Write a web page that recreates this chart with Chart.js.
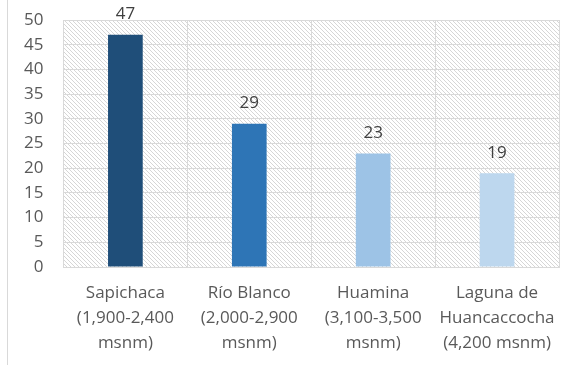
<!DOCTYPE html>
<html>
<head>
<meta charset="utf-8">
<script src="https://cdn.jsdelivr.net/npm/chart.js@4"></script>
<style>
  body { margin: 0; background: #fff; }
  #wrap { position: relative; width: 573px; height: 365px; }
  #edge { position: absolute; left: 7px; top: 0; height: 365px; border-left: 1px solid #d9d9d9; }
</style>
</head>
<body>
<div id="wrap">
  <div id="edge"></div>
  <canvas id="chart" width="573" height="365"></canvas>
</div>
<script>
// datos
const categories = [
    ["Sapichaca", "(1,900-2,400", "msnm)"],
    ["Río Blanco", "(2,000-2,900", "msnm)"],
    ["Huamina", "(3,100-3,500", "msnm)"],
    ["Laguna de", "Huancaccocha", "(4,200 msnm)"]
];
const values = [47, 29, 23, 19];
const barColors = ["#1F4E79", "#2E75B6", "#9DC3E6", "#BDD7EE"];
const yTicks = [0, 5, 10, 15, 20, 25, 30, 35, 40, 45, 50];

const FONT = "'Open Sans', sans-serif";

// motif hachuré du fond
function hatch() {
    const c = document.createElement("canvas");
    c.width = 4; c.height = 4;
    const g = c.getContext("2d");
    g.fillStyle = "#fff";
    g.fillRect(0, 0, 4, 4);
    g.strokeStyle = "#d6d6d6";
    g.lineWidth = 1;
    g.beginPath();
    g.moveTo(-1, -1); g.lineTo(5, 5);
    g.moveTo(-1, 3); g.lineTo(1, 5);
    g.moveTo(3, -1); g.lineTo(5, 1);
    g.stroke();
    return g.createPattern(c, "repeat");
}

const bgPlugin = {
    id: "bg",
    beforeDraw(chart) {
        const { ctx, chartArea: a } = chart;
        ctx.save();
        ctx.fillStyle = hatch();
        ctx.fillRect(a.left, a.top, a.right - a.left, a.bottom - a.top);
        ctx.restore();
    }
};

const labelPlugin = {
    id: "labels",
    afterDatasetsDraw(chart) {
        const ctx = chart.ctx;
        const meta = chart.getDatasetMeta(0);
        ctx.save();
        ctx.font = "17px " + FONT;
        ctx.fillStyle = "#404040";
        ctx.textAlign = "center";
        ctx.textBaseline = "bottom";
        meta.data.forEach((bar, i) => {
            ctx.fillText(values[i], bar.x, bar.y - 12);
        });
        ctx.restore();
    }
};

new Chart(document.getElementById("chart"), {
    type: "bar",
    data: {
        labels: categories,
        datasets: [{
            data: values,
            backgroundColor: barColors,
            categoryPercentage: 1,
            barPercentage: 0.28
        }]
    },
    options: {
        responsive: false,
        animation: false,
        layout: { padding: { top: 20, right: 14, left: 4, bottom: -4 } },
        plugins: { legend: { display: false }, tooltip: { enabled: false } },
        scales: {
            x: {
                grid: { color: "#d9d9d9", drawTicks: false, offset: true },
                border: { color: "#d9d9d9" },
                ticks: {
                    color: "#595959",
                    font: { family: FONT, size: 17, lineHeight: 1.45 },
                    padding: 14,
                    maxRotation: 0
                }
            },
            y: {
                min: 0, max: 50,
                afterBuildTicks(axis) { axis.ticks = yTicks.map(v => ({ value: v })); },
                // le padding des ticks ne doit pas pousser le haut du graphique
                afterFit(axis) { axis.paddingTop = 10; axis.paddingBottom = 10; },
                grid: { color: "#d9d9d9", drawTicks: false },
                border: { display: false },
                ticks: {
                    color: "#595959",
                    font: { family: FONT, size: 17 },
                    padding: 20,
                    autoSkip: false
                }
            }
        }
    },
    plugins: [bgPlugin, labelPlugin]
});
</script>
</body>
</html>
